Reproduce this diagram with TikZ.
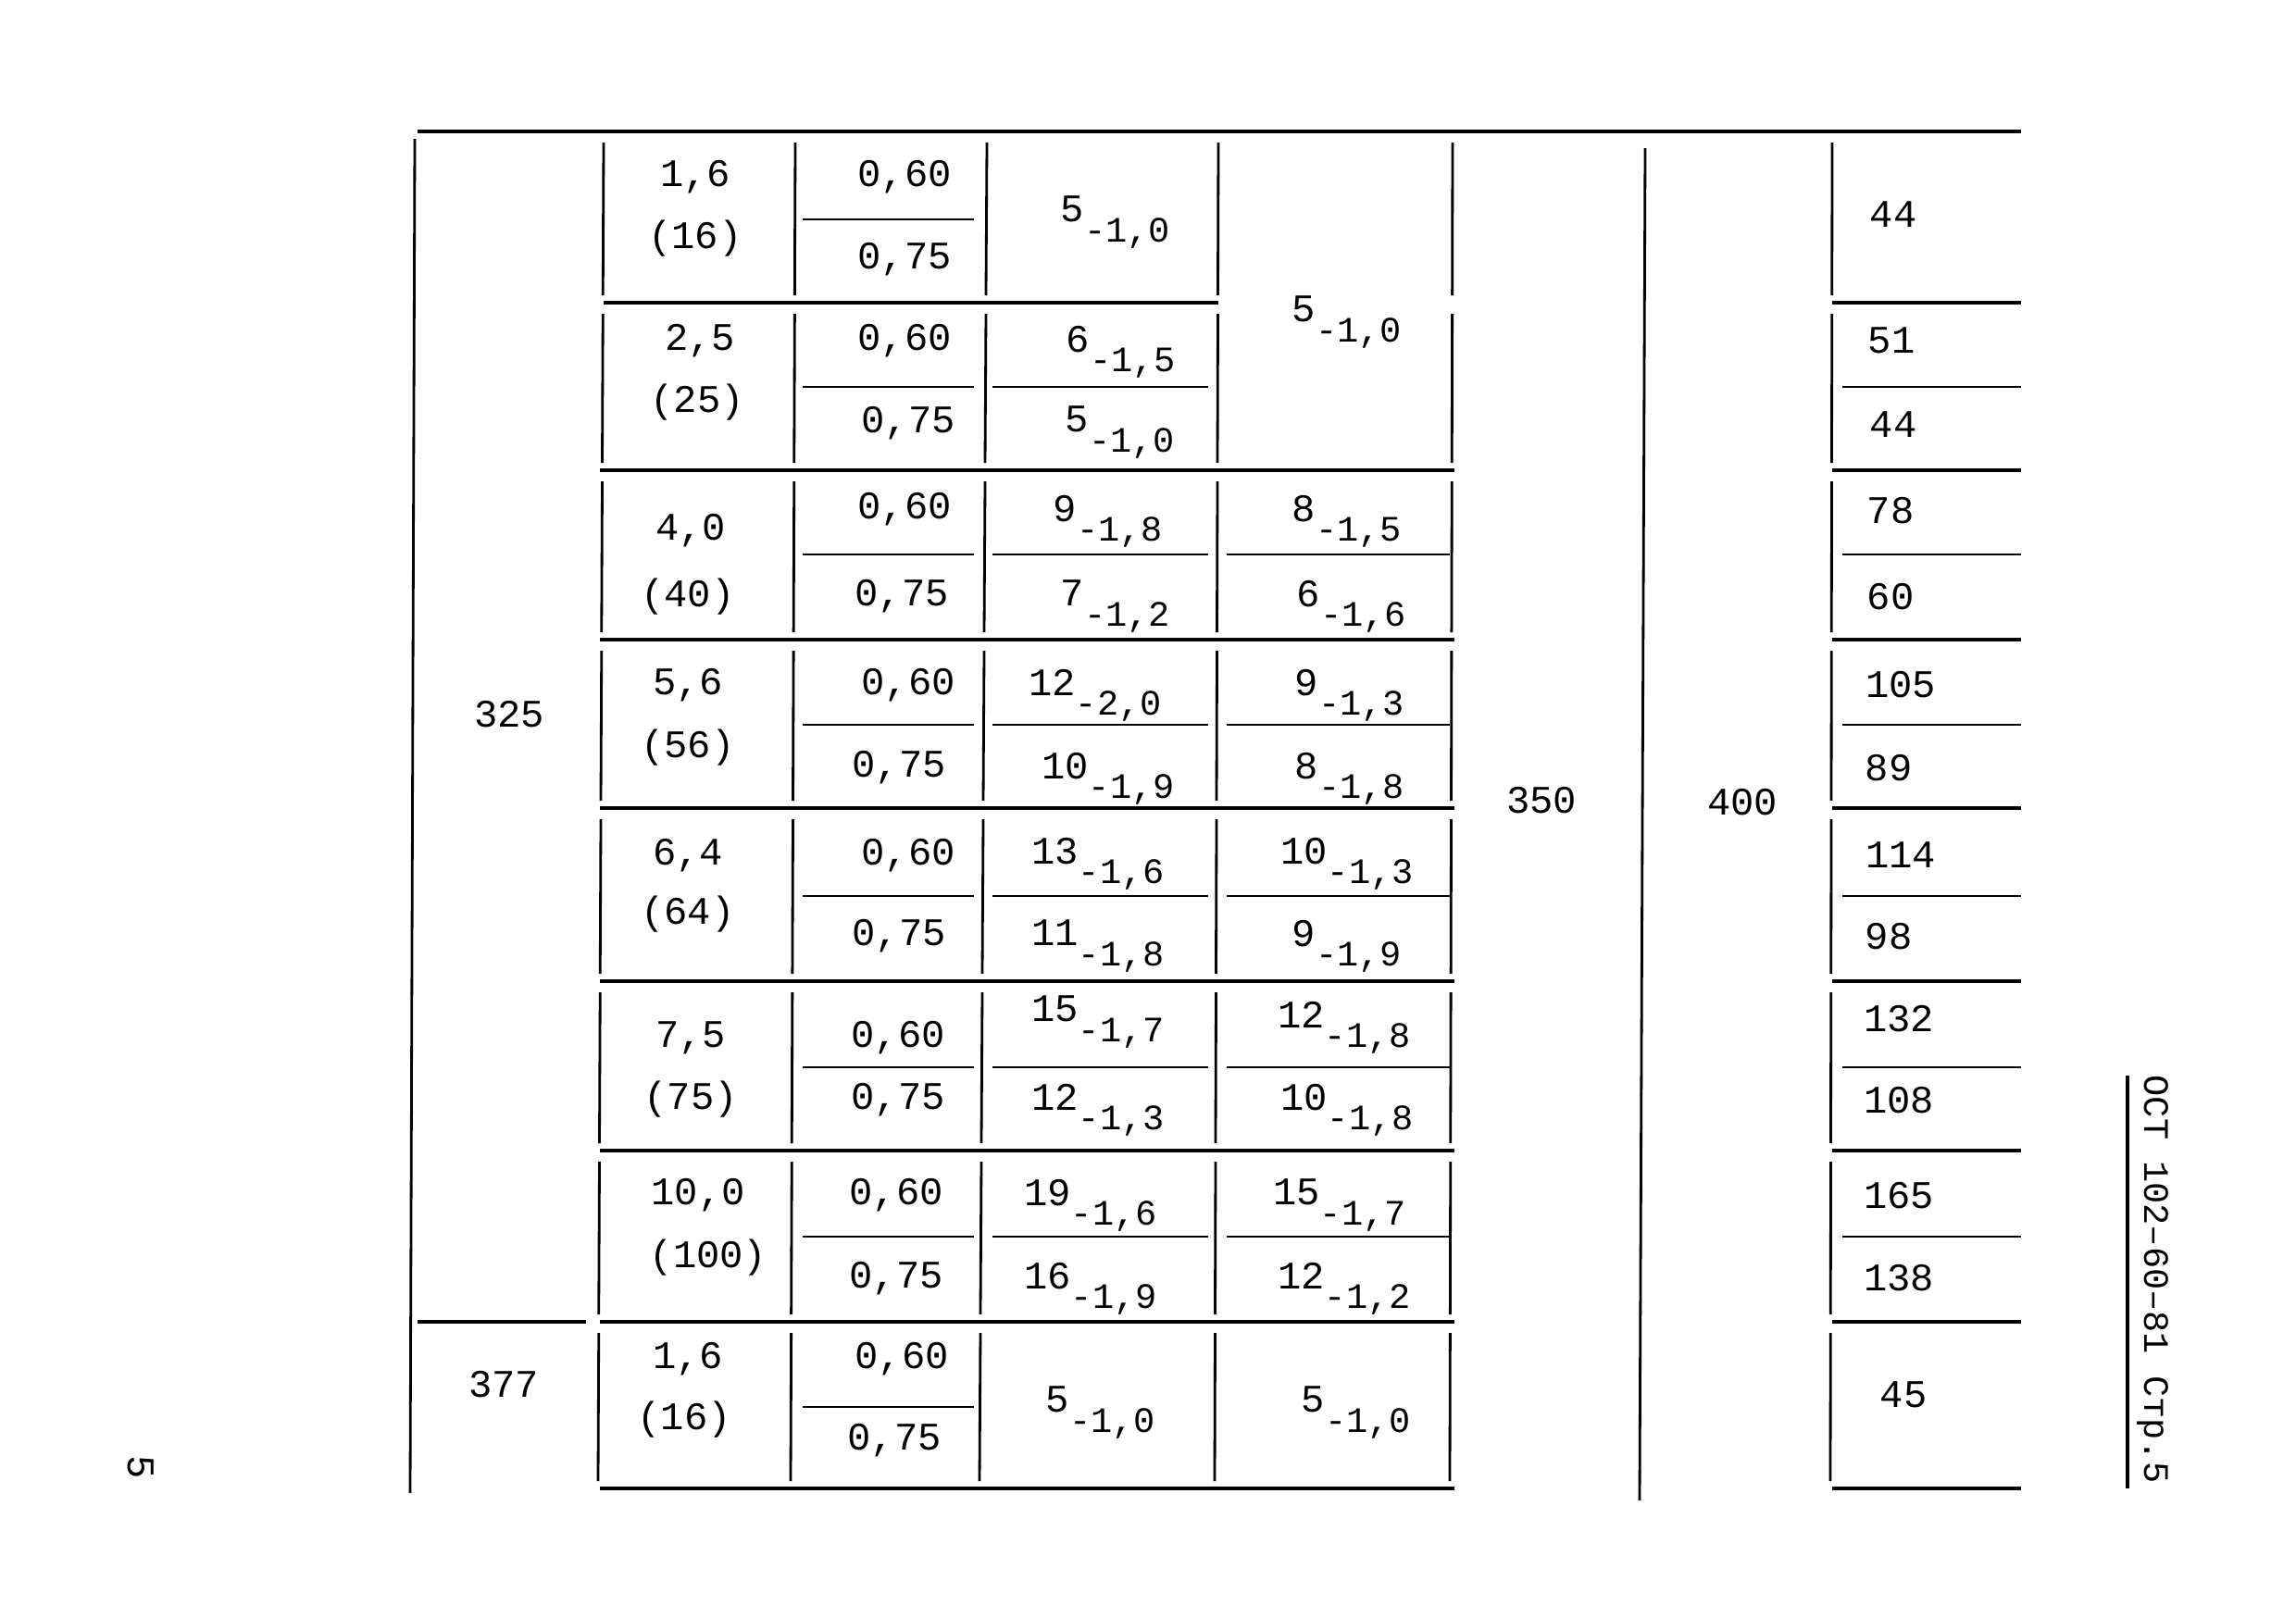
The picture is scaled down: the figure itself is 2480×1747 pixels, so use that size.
\documentclass[tikz,border=0pt]{standalone}
\usepackage{fontspec}
\setmainfont{Liberation Mono}
\usepackage{tikz}
\usetikzlibrary{positioning}
\tikzstyle{num} = [inner sep=0pt, font=\fontsize{12}{12}\selectfont]
\tikzstyle{stamp} = [inner sep=0pt, font=\fontsize{11}{11}\selectfont, rotate=-90]
\tikzstyle{rowline} = [draw, line width=1.1pt]
\tikzstyle{subline} = [draw, line width=0.5pt]
\tikzstyle{colline} = [draw, line width=0.8pt]
\newcommand{\tol}[2]{#1\raisebox{-6pt}{\fontsize{11}{11}\selectfont#2}}

\begin{document}
\begin{tikzpicture}[x=0.1mm, y={(0mm,-0.1mm)}]
    \useasboundingbox (0,0) rectangle (2480,1747);
    % Frame
    \path [rowline] (451,142) -- (2183,142);
    \path [rowline] (652,327) -- (1316,327);
    \foreach \y in {508,691,873,1060,1243,1428,1608}
        \path [rowline] (648,\y) -- (1571,\y);
    \foreach \y in {327,508,691,873,1060,1243,1428,1608}
        \path [rowline] (1979,\y) -- (2183,\y);
    \path [rowline] (451,1428) -- (633,1428);
    \path [colline] (448,150) -- (443,1613);
    \path [colline] (1777,160) -- (1771,1621);
    % column lines, a little skewed as in the print
    \foreach \t/\b in {142/327,327/508,508/691,691/873,873/1060,1060/1243,1243/1428,1428/1608}
        \foreach \x/\d in {652/-6,859/-5,1066/-8,1316/-4,1569/-3,1979/-2}
            \path [colline] ({\x+\d*(\t-142)/1466},{\t+12}) -- ({\x+\d*(\b-142)/1466},{\b-8});
    % Fraction lines
    \foreach \y in {237,418,599,783,968,1153,1336,1520}
        \path [subline] (867,\y) -- (1052,\y);
    \foreach \y in {418,599,783,968,1153,1336}
        \path [subline] (1072,\y) -- (1305,\y);
    \foreach \y in {599,783,968,1153,1336}
        \path [subline] (1325,\y) -- (1566,\y);
    \foreach \y in {418,599,783,968,1153,1336}
        \path [subline] (1990,\y) -- (2183,\y);

    % Place nodes
    \node [num] (dn1) at (550,772) {325};
    \node [num] (dn2) at (544,1496) {377};
    \node [num] (w350) at (1665,865) {350};
    \node [num] (w400) at (1882,867) {400};

    \node [num] (p1) at (751,191) {1,6};
    \node [num] (p1k) at (751,258) {(16)};
    \node [num] (a1) at (977,191) {0,60};
    \node [num] (b1) at (977,280) {0,75};
    \node [num] (s1) at (1205,240) {\tol{5}{-1,0}};
    \node [num] (t12) at (1455,348) {\tol{5}{-1,0}};
    \node [num] (m1) at (2045,232) {44};

    \node [num] (p2) at (756,368) {2,5};
    \node [num] (p2k) at (753,435) {(25)};
    \node [num] (a2) at (977,368) {0,60};
    \node [num] (b2) at (981,457) {0,75};
    \node [num] (s2) at (1211,380) {\tol{6}{-1,5}};
    \node [num] (s2b) at (1210,467) {\tol{5}{-1,0}};
    \node [num] (m2) at (2043,368) {51};
    \node [num] (m2b) at (2045,459) {44};

    \node [num] (p3) at (746,573) {4,0};
    \node [num] (p3k) at (743,645) {(40)};
    \node [num] (a3) at (977,550) {0,60};
    \node [num] (b3) at (974,644) {0,75};
    \node [num] (s3) at (1197,563) {\tol{9}{-1,8}};
    \node [num] (s3b) at (1205,655) {\tol{7}{-1,2}};
    \node [num] (t3) at (1455,563) {\tol{8}{-1,5}};
    \node [num] (t3b) at (1460,655) {\tol{6}{-1,6}};
    \node [num] (m3) at (2042,552) {78};
    \node [num] (m3b) at (2042,645) {60};

    \node [num] (p4) at (743,740) {5,6};
    \node [num] (p4k) at (743,808) {(56)};
    \node [num] (a4) at (981,740) {0,60};
    \node [num] (b4) at (971,829) {0,75};
    \node [num] (s4) at (1183,751) {\tol{12}{-2,0}};
    \node [num] (s4b) at (1197,841) {\tol{10}{-1,9}};
    \node [num] (t4) at (1458,751) {\tol{9}{-1,3}};
    \node [num] (t4b) at (1458,841) {\tol{8}{-1,8}};
    \node [num] (m4) at (2053,740) {105};
    \node [num] (m4b) at (2040,830) {89};

    \node [num] (p5) at (743,924) {6,4};
    \node [num] (p5k) at (743,988) {(64)};
    \node [num] (a5) at (981,924) {0,60};
    \node [num] (b5) at (971,1011) {0,75};
    \node [num] (s5) at (1186,933) {\tol{13}{-1,6}};
    \node [num] (s5b) at (1186,1022) {\tol{11}{-1,8}};
    \node [num] (t5) at (1455,933) {\tol{10}{-1,3}};
    \node [num] (t5b) at (1455,1022) {\tol{9}{-1,9}};
    \node [num] (m5) at (2053,924) {114};
    \node [num] (m5b) at (2040,1012) {98};

    \node [num] (p6) at (746,1121) {7,5};
    \node [num] (p6k) at (746,1188) {(75)};
    \node [num] (a6) at (970,1121) {0,60};
    \node [num] (b6) at (970,1188) {0,75};
    \node [num] (s6) at (1186,1104) {\tol{15}{-1,7}};
    \node [num] (s6b) at (1186,1199) {\tol{12}{-1,3}};
    \node [num] (t6) at (1452,1110) {\tol{12}{-1,8}};
    \node [num] (t6b) at (1455,1199) {\tol{10}{-1,8}};
    \node [num] (m6) at (2051,1101) {132};
    \node [num] (m6b) at (2051,1189) {108};

    \node [num] (p7) at (754,1291) {10,0};
    \node [num] (p7k) at (765,1359) {(100)};
    \node [num] (a7) at (968,1291) {0,60};
    \node [num] (b7) at (968,1381) {0,75};
    \node [num] (s7) at (1178,1302) {\tol{19}{-1,6}};
    \node [num] (s7b) at (1178,1392) {\tol{16}{-1,9}};
    \node [num] (t7) at (1447,1302) {\tol{15}{-1,7}};
    \node [num] (t7b) at (1452,1392) {\tol{12}{-1,2}};
    \node [num] (m7) at (2051,1292) {165};
    \node [num] (m7b) at (2051,1381) {138};

    \node [num] (p8) at (743,1468) {1,6};
    \node [num] (p8k) at (739,1534) {(16)};
    \node [num] (a8) at (974,1468) {0,60};
    \node [num] (b8) at (966,1556) {0,75};
    \node [num] (s8) at (1189,1526) {\tol{5}{-1,0}};
    \node [num] (t8) at (1465,1526) {\tol{5}{-1,0}};
    \node [num] (m8) at (2056,1507) {45};

    % Margin
    \path [colline, line width=1.2pt] (2298,1162) -- (2298,1608);
    \node [stamp] (ost) at (2325,1382) {ОСТ 102–60–81 Стр.5};
    \node [stamp, font=\fontsize{12}{12}\selectfont] (page) at (152,1585) {5};
\end{tikzpicture}
\end{document}
